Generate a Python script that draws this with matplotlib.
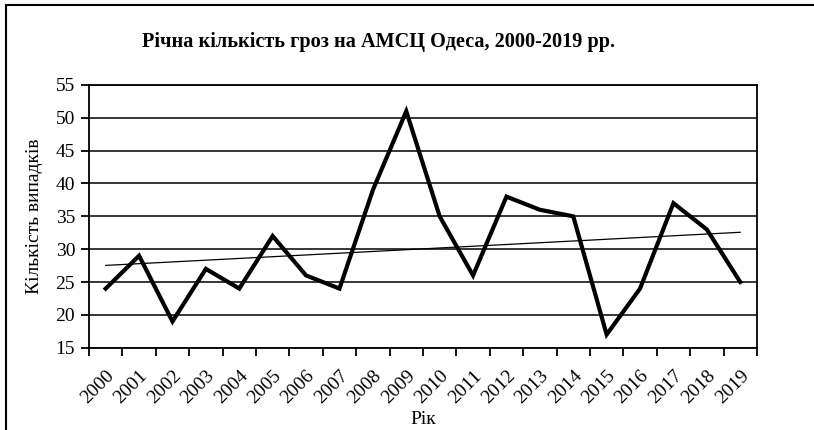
import numpy as np
import matplotlib
matplotlib.use("Agg")
import matplotlib.pyplot as plt
from matplotlib.lines import Line2D

# data
years = [str(y) for y in range(2000, 2020)]
storms = [24, 29, 19, 27, 24, 32, 26, 24, 39, 51, 35, 26, 38, 36, 35, 17, 24, 37, 33, 25]
y_ticks = [15, 20, 25, 30, 35, 40, 45, 50, 55]

plt.rcParams['font.family'] = ['Liberation Serif', 'DejaVu Serif']

fig = plt.figure(figsize=(8.14, 4.30), dpi=100)
ax = fig.add_axes([0.1093, 0.1914, 0.8206, 0.611])

x = np.arange(len(years))
ax.plot(x, storms, color='black', lw=3.0, solid_joinstyle='miter', zorder=3)

# linear trend
k, b = np.polyfit(x, storms, 1)
ax.plot(x, k * x + b, color='black', lw=0.9, zorder=3)

ax.set_ylim(15, 55)
ax.set_yticks(y_ticks)
ax.grid(axis='y', color='black', lw=1.1)
ax.set_axisbelow(True)

ax.set_xlim(-0.5, len(years) - 0.5)
ax.set_xticks(np.arange(-0.5, len(years), 1.0))
ax.set_xticklabels([])
ax.set_xticks(x, minor=True)
ax.set_xticklabels(years, minor=True, rotation=45, ha='right', va='top',
                   rotation_mode='anchor', fontsize=14)
ax.tick_params(axis='x', which='minor', length=0, pad=14)
ax.tick_params(axis='x', which='major', length=6, width=1.3, color='black')
ax.tick_params(axis='y', length=6, width=1.3, labelsize=14, pad=4)
for s in ax.spines.values():
    s.set_linewidth(1.3)
    s.set_color('black')

ax.set_ylabel('Кількість випадків', fontsize=14, labelpad=9)
ax.set_xlabel('Рік', fontsize=14, labelpad=3)
fig.text(0.465, 0.902, 'Річна кількість гроз на АМСЦ Одеса, 2000-2019 рр.',
         ha='center', va='center', fontsize=14.6, fontweight='bold')

# chart-area frame (only top and left edges visible in the crop)
fig.add_artist(Line2D([6 / 814, 1], [1 - 5 / 430, 1 - 5 / 430], color='black', lw=1.5,
                      transform=fig.transFigure))
fig.add_artist(Line2D([6 / 814, 6 / 814], [0, 1 - 5 / 430], color='black', lw=1.5,
                      transform=fig.transFigure))

fig.savefig('out.png', dpi=100)
